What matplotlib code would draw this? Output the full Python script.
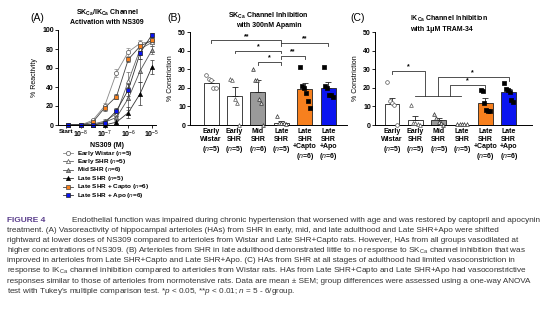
import matplotlib
matplotlib.use('Agg')
import matplotlib.pyplot as plt
import numpy as np
from matplotlib import font_manager
from matplotlib.lines import Line2D

W, H = 554, 332
plt.rcParams['font.family'] = ['Liberation Sans', 'DejaVu Sans']
plt.rcParams['mathtext.fontset'] = 'custom'
plt.rcParams['mathtext.it'] = 'Liberation Sans:italic'
plt.rcParams['mathtext.rm'] = 'Liberation Sans'
plt.rcParams['mathtext.bf'] = 'Liberation Sans:bold'

# ---- panel A data: NS309 dose response ----
dose_log = [-8.55, -8, -7.5, -7, -6.5, -6, -5.5, -5]
early_wistar = [0, 0, 5, 20, 55, 77, 86, 88]
early_wistar_sem = [0, 0, 1.5, 3, 4, 4, 3, 3]
early_shr = [0, 0, 1, 4, 12, 46, 80, 87]
early_shr_sem = [0, 0, 1, 2, 4, 10, 6, 4]
mid_shr = [0, 0, 0, 3, 8, 28, 57, 79]
mid_shr_sem = [0, 0, 0, 2, 4, 12, 12, 4]
late_shr = [0, 0, 0, 0, 3, 13, 33, 61]
late_shr_sem = [0, 0, 0, 1, 2, 6, 12, 7]
late_capto = [0, 0, 3, 18, 30, 69, 83, 89]
late_capto_sem = [0, 0, 1, 3, 3, 3, 3, 3]
late_apo = [0, 0, 0, 2, 15, 37, 76, 95]
late_apo_sem = [0, 0, 0, 1, 3, 6, 6, 2]
legend_labels = ['Early Wistar ($\\it{n}$=5)', 'Early SHR ($\\it{n}$=5)', 'Mid SHR ($\\it{n}$=6)',
                 'Late SHR ($\\it{n}$=5)', 'Late SHR + Capto ($\\it{n}$=6)', 'Late SHR + Apo ($\\it{n}$=6)']
a_ticks = ['Start', '10$^{-8}$', '10$^{-7}$', '10$^{-6}$', '10$^{-5}$']

# ---- panel B data: apamin ----
b_cats = ['Early\nWistar\n($\\it{n}$=5)', 'Early\nSHR\n($\\it{n}$=5)', 'Mid\nSHR\n($\\it{n}$=6)',
          'Late\nSHR\n($\\it{n}$=5)', 'Late\nSHR\n+Capto\n($\\it{n}$=6)', 'Late\nSHR\n+Apo\n($\\it{n}$=6)']
b_mean = [22.5, 15.5, 18.0, 1.0, 19.5, 20.0]
b_sem = [1.5, 5.0, 6.0, 1.0, 3.0, 3.0]
b_points = [[27, 25, 24, 20, 20], [25, 24, 14, 12, 0], [30, 24, 24, 14, 12, 0],
            [5, 1, 1, 1, 0.5], [31, 21, 20, 17, 13, 9], [31, 21, 20, 16, 16, 15]]

# ---- panel C data: TRAM-34 ----
c_cats = ['Early\nWistar\n($\\it{n}$=5)', 'Early\nSHR\n($\\it{n}$=5)', 'Mid\nSHR\n($\\it{n}$=5)',
          'Late\nSHR\n($\\it{n}$=5)', 'Late\nSHR\n+Capto\n($\\it{n}$=6)', 'Late\nSHR\n+Apo\n($\\it{n}$=6)']
c_mean = [11.5, 2.5, 2.5, 0.2, 12.0, 17.5]
c_sem = [3.0, 2.3, 1.2, 0.0, 2.3, 1.8]
c_points = [[23, 13, 12, 11, 0], [11, 1, 1, 0.5, 0], [6, 4, 1.5, 1, 0],
            [0.3, 0.3, 0.3, 0.3, 0.3], [19, 18.5, 12, 8, 7.5, 7.5], [22.5, 19.5, 19, 18, 13.5, 12.5]]

caption = [
    'Endothelial function was impaired during chronic hypertension that worsened with age and was restored by captopril and apocynin',
    'treatment. (A) Vasoreactivity of hippocampal arterioles (HAs) from SHR in early, mid, and late adulthood and Late SHR+Apo were shifted',
    'rightward at lower doses of NS309 compared to arterioles from Wistar and Late SHR+Capto rats. However, HAs from all groups vasodilated at',
    'higher concentrations of NS309. (B) Arterioles from SHR in late adulthood demonstrated little to no response to SK$_{\\mathrm{Ca}}$ channel inhibition that was',
    'improved in arterioles from Late SHR+Capto and Late SHR+Apo. (C) HAs from SHR at all stages of adulthood had limited vasoconstriction in',
    'response to IK$_{\\mathrm{Ca}}$ channel inhibition compared to arterioles from Wistar rats. HAs from Late SHR+Capto and Late SHR+Apo had vasoconstrictive',
    'responses similar to those of arterioles from normotensive rats. Data are mean \u00b1 SEM; group differences were assessed using a one-way ANOVA',
    "test with Tukey's multiple comparison test. *$\\it{p}$ < 0.05, **$\\it{p}$ < 0.01; $\\it{n}$ = 5 - 6/group.",
]

ORANGE = '#f7801e'
BLUE = '#0a14f0'
GRAY = '#9a9a9a'
FS = 5


def axes_px(left, top, right, bottom):
    return fig.add_axes([left / W, 1 - bottom / H, (right - left) / W, (bottom - top) / H])


def style(ax):
    ax.spines['top'].set_visible(False)
    ax.spines['right'].set_visible(False)
    for s in ('left', 'bottom'):
        ax.spines[s].set_linewidth(0.7)
    ax.tick_params(labelsize=FS, length=2, width=0.6, pad=1)
    for t in ax.get_yticklabels() + ax.get_xticklabels():
        t.set_fontweight('bold')


def bracket(ax, x1, x2, y, label, d1=1.5, d2=1.5):
    ax.plot([x1, x1, x2, x2], [y - d1, y, y, y - d2], color='#333333', lw=0.6, clip_on=False)
    ax.text((x1 + x2) / 2, y + 0.3, label, ha='center', va='bottom', fontsize=FS, fontweight='bold')


fig = plt.figure(figsize=(W / 100, H / 100), dpi=100)

# ---------------- A ----------------
axA = axes_px(58, 30, 156, 125)
x = 10.0 ** np.array(dose_log)
series = [
    (early_wistar, early_wistar_sem, 'o', 'white', '#555555', '#888888'),
    (early_shr, early_shr_sem, '^', 'white', '#555555', '#666666'),
    (mid_shr, mid_shr_sem, '^', GRAY, '#444444', '#555555'),
    (late_shr, late_shr_sem, '^', 'black', 'black', '#333333'),
    (late_capto, late_capto_sem, 's', ORANGE, '#444444', '#444444'),
    (late_apo, late_apo_sem, 's', BLUE, '#222222', '#333333'),
]
for i, ((vals, sem, mk, fc, ec, lc), lab) in enumerate(zip(series, legend_labels)):
    axA.errorbar(x, vals, yerr=sem, color=lc, lw=0.6, marker=mk, ms=3, mfc=fc, mec=ec, mew=0.5,
                 ecolor=lc, elinewidth=0.5, capsize=1.2, capthick=0.5, clip_on=False)
    # legend row drawn by hand so rows sit as tight as in the figure
    ly = 1 - (153 + 8.4 * i) / H
    fig.add_artist(Line2D([63 / W, 73 / W], [ly, ly], transform=fig.transFigure, color=lc, lw=0.6))
    fig.add_artist(Line2D([68 / W], [ly], transform=fig.transFigure, linestyle='none', marker=mk,
                          ms=3, mfc=fc, mec=ec, mew=0.5))
    fig.text(77 / W, ly, lab, fontsize=4.6, fontweight='bold', va='center', ha='left')
axA.set_xscale('log')
axA.set_xlim(10 ** -8.97, 10 ** -4.83)
axA.set_ylim(0, 100)
axA.set_xticks([10 ** -8.62, 1e-8, 1e-7, 1e-6, 1e-5])
axA.set_xticklabels(a_ticks)
axA.xaxis.set_minor_locator(matplotlib.ticker.NullLocator())
axA.set_yticks(range(0, 101, 20))
style(axA)
axA.get_xticklabels()[0].set_fontsize(4.6)
axA.set_ylabel('% Reactivity', fontsize=FS, labelpad=3)
axA.set_xlabel('NS309 (M)', fontsize=FS, fontweight='bold', labelpad=1)
axA.set_title('SK$_{\\mathbf{Ca}}$/IK$_{\\mathbf{Ca}}$ Channel\nActivation with NS309', fontsize=FS,
              fontweight='bold', pad=4, linespacing=1.2)
fig.text(37 / W, 1 - 18 / H, '(A)', fontsize=7.5, ha='center', va='center')


def bar_panel(ax, means, sems, points, cats):
    pos = np.arange(len(means))
    colors = ['white', 'white', GRAY, 'white', ORANGE, BLUE]
    ax.bar(pos, means, width=0.64, color=colors, edgecolor='#222222', linewidth=0.6, zorder=2)
    ax.errorbar(pos, means, yerr=[np.zeros(len(means)), sems], fmt='none', ecolor='#222222',
                elinewidth=0.6, capsize=2, capthick=0.6, zorder=3)
    marks = [('o', 'white', '#555555'), ('^', 'white', '#555555'), ('^', '#dddddd', '#333333'),
             ('^', 'white', '#333333'), ('s', 'black', 'black'), ('s', 'black', 'black')]
    for i, pts in enumerate(points):
        mk, fc, ec = marks[i]
        off = np.linspace(-0.2, 0.2, len(pts))
        ax.scatter(pos[i] + off, pts, marker=mk, s=7 if mk != 's' else 8, facecolor=fc, edgecolor=ec,
                   linewidth=0.5, zorder=4, clip_on=False)
    ax.set_ylim(0, 50)
    ax.set_yticks(range(0, 51, 10))
    ax.set_xticks(pos)
    ax.set_xticklabels(cats, linespacing=1.15)
    style(ax)
    ax.tick_params(axis='x', length=0, pad=2)
    ax.set_ylabel('% Constriction', fontsize=FS, labelpad=3)


# ---------------- B ----------------
axB = axes_px(190, 32, 347, 125)
bar_panel(axB, b_mean, b_sem, b_points, b_cats)
axB.set_xlim(-0.9, 5.8)
bracket(axB, 0, 3, 45.5, '**')
bracket(axB, 1, 3, 40, '*')
bracket(axB, 2, 3, 34, '*')
bracket(axB, 3, 5, 44, '**')
bracket(axB, 3, 4, 37, '**')
axB.text(2.45, 56.5, 'SK$_{\\mathbf{Ca}}$ Channel Inhibition\nwith 300nM Apamin', fontsize=FS,
         fontweight='bold', ha='center', va='center', linespacing=1.3)
fig.text(174 / W, 1 - 18 / H, '(B)', fontsize=7.5, ha='center', va='center')

# ---------------- C ----------------
axC = axes_px(375, 32, 532, 125)
bar_panel(axC, c_mean, c_sem, c_points, c_cats)
axC.set_xlim(-0.73, 6.0)
kw = dict(color='#333333', lw=0.6, clip_on=False)
axC.plot([0.97, 2.95], [15.5, 15.5], **kw)
axC.plot([0, 0, 1.42, 1.42], [27.5, 29, 29, 15.5], **kw)
axC.text(0.7, 29.3, '*', fontsize=FS, fontweight='bold', ha='center', va='bottom')
axC.plot([1.95, 1.95, 5, 5], [15.5, 25.8, 25.8, 23.8], **kw)
axC.text(3.45, 26.1, '*', fontsize=FS, fontweight='bold', ha='center', va='bottom')
axC.plot([2.5, 2.5, 4, 4], [15.5, 21.5, 21.5, 19.8], **kw)
axC.text(3.25, 21.8, '*', fontsize=FS, fontweight='bold', ha='center', va='bottom')
fig.text(410 / W, 1 - 23.5 / H, 'IK$_{\\mathbf{Ca}}$ Channel Inhibition\nwith 1\u03bcM TRAM-34', fontsize=FS,
         fontweight='bold', ha='left', va='center', linespacing=1.3)
fig.text(358 / W, 1 - 18 / H, '(C)', fontsize=7.5, ha='center', va='center')

# ---------------- caption ----------------
names = {f.name for f in font_manager.fontManager.ttflist}
cap_font = 'Liberation Sans Narrow' if 'Liberation Sans Narrow' in names else 'Liberation Sans'
fig.text(7 / W, 1 - 220 / H, 'FIGURE 4', fontsize=6, fontweight='bold', color='#5b3f8c',
         va='center', ha='left')
cap_texts = []
for i, line in enumerate(caption):
    x0 = 72 if i == 0 else 7
    t = fig.text(x0 / W, 1 - (220 + 10.2 * i) / H, line, fontsize=6, family=cap_font,
                 color='#333333', va='center', ha='left')
    cap_texts.append(t)

# shrink caption so the widest line spans the text block
fig.canvas.draw()
renderer = fig.canvas.get_renderer()
widest = max(t.get_window_extent(renderer).x1 for t in cap_texts)
scale = (547 - 7) / (widest - 7)
for t in cap_texts:
    t.set_fontsize(6 * scale)

fig.savefig('out.png', dpi=100)
